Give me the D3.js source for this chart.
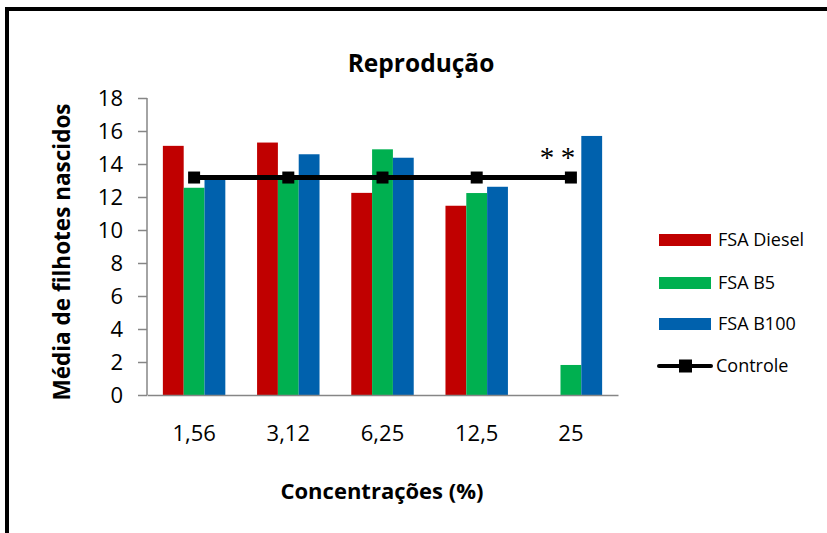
<!DOCTYPE html>
<html><head><meta charset="utf-8">
<script src="https://cdn.jsdelivr.net/npm/d3@7"></script>
<style>body{margin:0;background:#fff}svg{display:block}</style>
</head><body>
<svg id="c" width="827" height="533"></svg>
<script>
const categories = ["1,56","3,12","6,25","12,5","25"];
const seriesNames = ["FSA Diesel","FSA B5","FSA B100"];
const diesel = [15.1, 15.3, 12.25, 11.47, 0];
const b5 = [12.56, 13.1, 14.89, 12.24, 1.82];
const b100 = [13.03, 14.59, 14.38, 12.62, 15.7];
const controle = [13.18, 13.18, 13.18, 13.18, 13.18];
const yTicks = [0,2,4,6,8,10,12,14,16,18];
const colors = ["#C00000","#00B050","#0061AD"];
const annotations = [{cat:"25", series:0, text:"*"},{cat:"25", series:1, text:"*"}];

const font = "'Open Sans', Lato, sans-serif";
const svg = d3.select("#c");
// frame
svg.append("line").attr("x1",7).attr("x2",7).attr("y1",7).attr("y2",533).attr("stroke","#000").attr("stroke-width",4);
svg.append("line").attr("x1",5).attr("x2",827).attr("y1",9).attr("y2",9).attr("stroke","#000").attr("stroke-width",4);

const x = d3.scaleBand().domain(categories).range([147,618]).padding(0);
const bw = x.bandwidth();
const xs = d3.scaleBand().domain(d3.range(3)).range([bw*0.1685, bw*0.8315]).padding(0);
const y = d3.scaleLinear().domain([0,18]).range([395,98]);

const series = [diesel,b5,b100];
series.forEach((vals,si)=>{
  svg.append("g").selectAll("rect").data(vals).join("rect")
    .attr("x",(d,i)=>x(categories[i])+xs(si))
    .attr("width",xs.bandwidth())
    .attr("y",d=>y(d))
    .attr("height",d=>y(0)-y(d))
    .attr("fill",colors[si]);
});

// y axis
const ya = svg.append("g").attr("transform","translate(147,0)")
  .call(d3.axisLeft(y).tickValues(yTicks).tickSize(9).tickPadding(15).tickFormat(d3.format("d")));
ya.select(".domain").attr("stroke","#868686").attr("stroke-width",1.5).attr("d","M0,98V395");
ya.selectAll(".tick line").attr("stroke","#868686").attr("stroke-width",1.5);
ya.selectAll(".tick text").attr("font-family",font).attr("font-size",22).attr("fill","#000");

// x axis
const xa = svg.append("g").attr("transform","translate(0,395)")
  .call(d3.axisBottom(x).tickSize(0).tickPadding(30));
xa.select(".domain").attr("stroke","#868686").attr("stroke-width",1.5);
xa.selectAll(".tick text").attr("font-family",font).attr("font-size",22).attr("fill","#000");

// controle line
const cx = c => x(c)+bw/2;
svg.append("path").datum(controle)
  .attr("d", d3.line().x((d,i)=>cx(categories[i])).y(d=>y(d)))
  .attr("fill","none").attr("stroke","#000").attr("stroke-width",5);
svg.append("g").selectAll("rect").data(controle).join("rect")
  .attr("x",(d,i)=>cx(categories[i])-6).attr("y",d=>y(d)-6)
  .attr("width",12).attr("height",12).attr("fill","#000");

// asterisks
svg.append("g").selectAll("text").data(annotations).join("text")
  .attr("x",d=>x(d.cat)+xs(d.series)+xs.bandwidth()/2-3)
  .attr("y",167)
  .attr("text-anchor","middle")
  .attr("font-family","'Liberation Serif', serif").attr("font-size",29)
  .text(d=>d.text);

// title & axis titles
svg.append("text").attr("x",421).attr("y",72).attr("text-anchor","middle")
  .attr("font-family",font).attr("font-weight","bold").attr("font-size",24.5).text("Reprodução");
svg.append("text").attr("transform","translate(70,252) rotate(-90)").attr("text-anchor","middle")
  .attr("font-family",font).attr("font-weight","bold").attr("font-size",22.5).text("Média de filhotes nascidos");
svg.append("text").attr("x",382).attr("y",499).attr("text-anchor","middle")
  .attr("font-family",font).attr("font-weight","bold").attr("font-size",22).text("Concentrações (%)");

// legend
const legY = [240,283,324,366];
const lg = svg.append("g");
seriesNames.forEach((n,i)=>{
  lg.append("rect").attr("x",659).attr("y",legY[i]-6).attr("width",52).attr("height",12).attr("fill",colors[i]);
  lg.append("text").attr("x",718).attr("y",legY[i]).attr("dy","0.35em")
    .attr("font-family",font).attr("font-size",18).text(n);
});
lg.append("line").attr("x1",659).attr("x2",711).attr("y1",legY[3]).attr("y2",legY[3]).attr("stroke","#000").attr("stroke-width",4).attr("stroke-linecap","round");
lg.append("rect").attr("x",679).attr("y",legY[3]-6.5).attr("width",13).attr("height",13).attr("fill","#000");
lg.append("text").attr("x",716).attr("y",legY[3]).attr("dy","0.35em")
  .attr("font-family",font).attr("font-size",18).text("Controle");
</script>
</body></html>
